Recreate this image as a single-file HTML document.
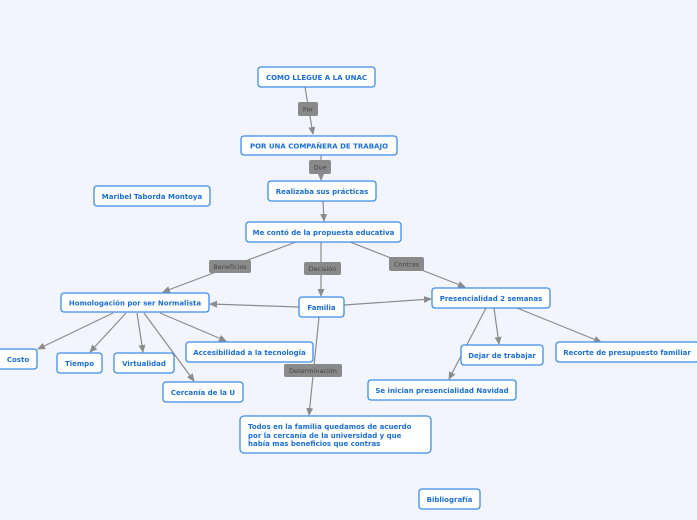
<!DOCTYPE html>
<html><head><meta charset="utf-8"><style>
html,body{margin:0;padding:0;background:#f2f5fe;}
svg{display:block}
.n{fill:#fff;stroke:#3d8ee8;stroke-width:1.3}
.t{font-family:"DejaVu Sans","Liberation Sans",sans-serif;font-weight:bold;font-size:7px;fill:#1b6fd8}
.l{fill:#8a8a8a}
.lt{font-family:"DejaVu Sans","Liberation Sans",sans-serif;font-size:6.5px;fill:#444}
.c{stroke:#8c8c8c;stroke-width:1.2;fill:none}
</style></head><body>
<svg width="697" height="520" viewBox="0 0 697 520" xmlns="http://www.w3.org/2000/svg">
<defs><marker id="a" markerWidth="8" markerHeight="8" refX="7" refY="4" orient="auto" markerUnits="userSpaceOnUse"><path d="M0,0.5 L8,4 L0,7.5 Z" fill="#8c8c8c"/></marker></defs>
<g class="c">
<line x1="305" y1="87" x2="313" y2="134" marker-end="url(#a)"/>
<line x1="321" y1="155" x2="321" y2="180" marker-end="url(#a)"/>
<line x1="323" y1="201" x2="324" y2="221" marker-end="url(#a)"/>
<line x1="296" y1="242" x2="163" y2="292" marker-end="url(#a)"/>
<line x1="321" y1="242" x2="321" y2="296" marker-end="url(#a)"/>
<line x1="350" y1="242" x2="465" y2="287" marker-end="url(#a)"/>
<line x1="299" y1="307" x2="210" y2="304" marker-end="url(#a)"/>
<line x1="344" y1="305" x2="431" y2="299" marker-end="url(#a)"/>
<line x1="319" y1="317" x2="309" y2="415" marker-end="url(#a)"/>
<line x1="113" y1="313" x2="38" y2="349" marker-end="url(#a)"/>
<line x1="126" y1="313" x2="90" y2="352" marker-end="url(#a)"/>
<line x1="137" y1="313" x2="143" y2="352" marker-end="url(#a)"/>
<line x1="144" y1="313" x2="194" y2="381" marker-end="url(#a)"/>
<line x1="160" y1="313" x2="226" y2="341" marker-end="url(#a)"/>
<line x1="486" y1="308" x2="449" y2="379" marker-end="url(#a)"/>
<line x1="494" y1="308" x2="499" y2="344" marker-end="url(#a)"/>
<line x1="517" y1="308" x2="601" y2="342" marker-end="url(#a)"/>
</g>
<g>
<rect class="l" x="298" y="102" width="20" height="14" rx="2"/><text class="lt" x="308" y="111.5" text-anchor="middle">Por</text>
<rect class="l" x="309" y="160" width="22" height="14" rx="2"/><text class="lt" x="320" y="169.5" text-anchor="middle">Que</text>
<rect class="l" x="209" y="260" width="42" height="13" rx="2"/><text class="lt" x="230" y="269" text-anchor="middle">Beneficios</text>
<rect class="l" x="304" y="262" width="37" height="13" rx="2"/><text class="lt" x="322.5" y="271" text-anchor="middle">Decisión</text>
<rect class="l" x="389" y="257" width="35" height="14" rx="2"/><text class="lt" x="406.5" y="266.5" text-anchor="middle">Contras</text>
<rect class="l" x="284" y="364" width="58" height="13" rx="2"/><text class="lt" x="313" y="373" text-anchor="middle">Determinación</text>
</g>
<g>
<rect class="n" x="258" y="67" width="117" height="20" rx="3"/><text class="t" x="316.5" y="80" text-anchor="middle">COMO LLEGUE A LA UNAC</text>
<rect class="n" x="241" y="136" width="156" height="19" rx="3"/><text class="t" x="319" y="148.5" text-anchor="middle">POR UNA COMPAÑERA DE TRABAJO</text>
<rect class="n" x="268" y="181" width="108" height="20" rx="3"/><text class="t" x="322" y="194" text-anchor="middle">Realizaba sus prácticas</text>
<rect class="n" x="94" y="186" width="116" height="20" rx="3"/><text class="t" x="152" y="199" text-anchor="middle">Maribel Taborda Montoya</text>
<rect class="n" x="246" y="222" width="155" height="20" rx="3"/><text class="t" x="323.5" y="235" text-anchor="middle">Me contó de la propuesta educativa</text>
<rect class="n" x="61" y="293" width="148" height="19" rx="3"/><text class="t" x="135" y="305.5" text-anchor="middle">Homologación por ser Normalista</text>
<rect class="n" x="299" y="297" width="45" height="20" rx="3"/><text class="t" x="321.5" y="310" text-anchor="middle">Familia</text>
<rect class="n" x="432" y="288" width="118" height="20" rx="3"/><text class="t" x="491" y="301" text-anchor="middle">Presencialidad 2 semanas</text>
<rect class="n" x="-3" y="349" width="40" height="20" rx="3"/><text class="t" x="18" y="362" text-anchor="middle">Costo</text>
<rect class="n" x="57" y="353" width="45" height="20" rx="3"/><text class="t" x="79.5" y="366" text-anchor="middle">Tiempo</text>
<rect class="n" x="114" y="353" width="60" height="20" rx="3"/><text class="t" x="144" y="366" text-anchor="middle">Virtualidad</text>
<rect class="n" x="186" y="342" width="127" height="20" rx="3"/><text class="t" x="249.5" y="355" text-anchor="middle">Accesibilidad a la tecnología</text>
<rect class="n" x="163" y="382" width="80" height="20" rx="3"/><text class="t" x="203" y="395" text-anchor="middle">Cercanía de la U</text>
<rect class="n" x="461" y="345" width="82" height="20" rx="3"/><text class="t" x="502" y="358" text-anchor="middle">Dejar de trabajar</text>
<rect class="n" x="556" y="342" width="143" height="20" rx="3"/><text class="t" x="627" y="355" text-anchor="middle">Recorte de presupuesto familiar</text>
<rect class="n" x="368" y="380" width="148" height="20" rx="3"/><text class="t" x="442" y="393" text-anchor="middle">Se inician presencialidad Navidad</text>
<rect class="n" x="240" y="416" width="191" height="37" rx="4"/>
<text class="t" x="248" y="429">Todos en la familia quedamos de acuerdo</text>
<text class="t" x="248" y="438">por la cercanía de la universidad y que</text>
<text class="t" x="248" y="446">había mas beneficios que contras</text>
<rect class="n" x="419" y="489" width="61" height="20" rx="3"/><text class="t" x="449.5" y="502" text-anchor="middle">Bibliografía</text>
</g>
</svg>
</body></html>
